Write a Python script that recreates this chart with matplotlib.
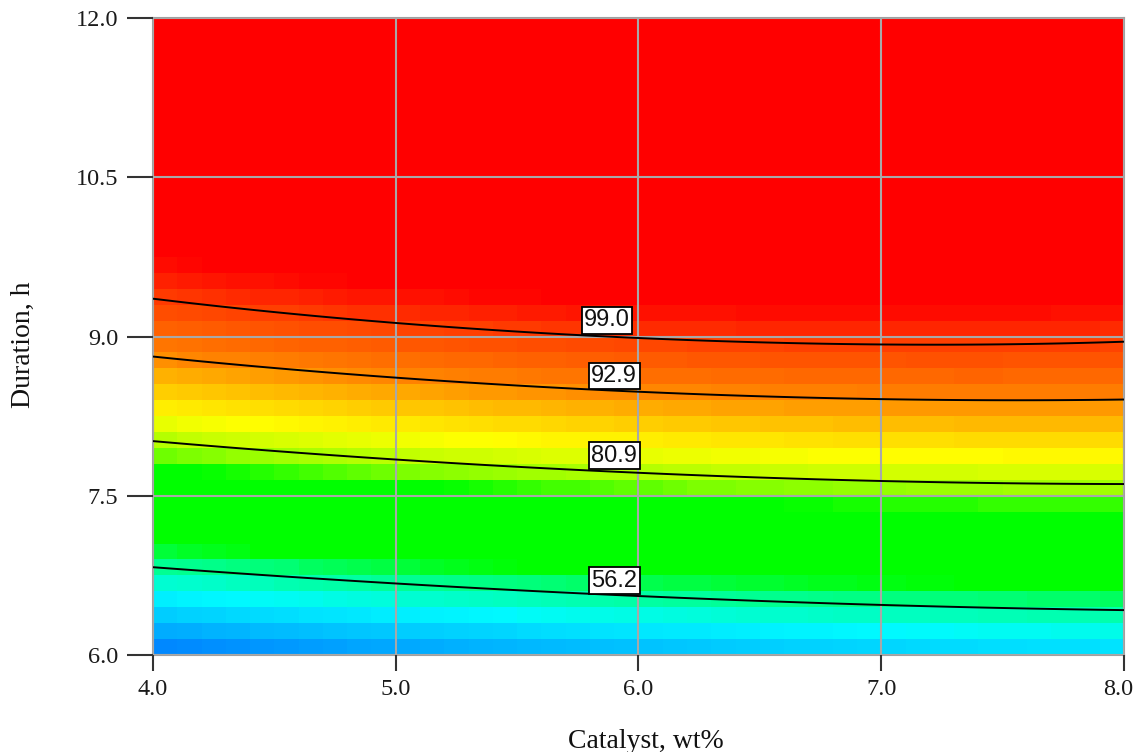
import numpy as np
import matplotlib
matplotlib.use("Agg")
import matplotlib.pyplot as plt
from matplotlib.colors import LinearSegmentedColormap, Normalize
from matplotlib.transforms import ScaledTranslation

plt.rcParams['font.family'] = ['Liberation Serif', 'DejaVu Serif']

# contour levels and the duration at which each one crosses catalyst = 4..8 wt%
catalyst = [4.0, 5.0, 6.0, 7.0, 8.0]
levels = [56.2, 80.9, 92.9, 99.0]
dur_562 = [6.83, 6.67, 6.55, 6.47, 6.43]
dur_809 = [8.02, 7.84, 7.73, 7.64, 7.60]
dur_929 = [8.81, 8.60, 8.48, 8.41, 8.40]
dur_990 = [9.35, 9.13, 9.00, 8.92, 8.96]
level_durs = [dur_562, dur_809, dur_929, dur_990]

x_ticks = [4.0, 5.0, 6.0, 7.0, 8.0]
y_ticks = [6.0, 7.5, 9.0, 10.5, 12.0]

# quadratic response surface (coded factors) fitted through the contour points
def coded(x, y):
    a = (np.asarray(x) - 6.0) / 2.0
    b = (np.asarray(y) - 9.0) / 3.0
    return np.stack([np.ones_like(a), a, b, a * b, a * a, b * b], axis=-1)

px, py, pz = [], [], []
for lev, durs in zip(levels, level_durs):
    px += catalyst
    py += durs
    pz += [lev] * len(durs)
coef, *_ = np.linalg.lstsq(coded(np.array(px), np.array(py)), np.array(pz), rcond=None)

def response(x, y):
    return coded(x, y) @ coef

# colour ramp: blue -> cyan -> green -> yellow -> orange -> red
stops = [
    (30.0, (0, 80, 255)),
    (34.0, (0, 115, 255)),
    (40.0, (0, 165, 255)),
    (46.0, (0, 215, 255)),
    (50.0, (0, 250, 255)),
    (54.0, (0, 255, 190)),
    (58.0, (0, 255, 120)),
    (61.5, (0, 255, 0)),
    (76.5, (0, 255, 0)),
    (79.0, (130, 255, 0)),
    (82.0, (200, 255, 0)),
    (85.0, (255, 255, 0)),
    (88.0, (255, 215, 0)),
    (91.0, (255, 170, 0)),
    (93.0, (255, 135, 0)),
    (96.0, (255, 100, 0)),
    (99.0, (255, 65, 0)),
    (102.5, (255, 0, 0)),
]
vmin, vmax = stops[0][0], stops[-1][0]
cmap = LinearSegmentedColormap.from_list(
    'de', [((v - vmin) / (vmax - vmin), tuple(c / 255 for c in rgb)) for v, rgb in stops])
cmap.set_over((1, 0, 0))
cmap.set_under((0, 80 / 255, 1))

fig = plt.figure(figsize=(11.35, 7.52), dpi=100)
ax = fig.add_axes([0.1348, 0.129, 0.8555, 0.847])

xe = np.linspace(4, 8, 41)
ye = np.linspace(6, 12, 41)
xc = (xe[:-1] + xe[1:]) / 2
yc = (ye[:-1] + ye[1:]) / 2
XC, YC = np.meshgrid(xc, yc)
ax.pcolormesh(xe, ye, response(XC, YC), cmap=cmap,
              norm=Normalize(vmin, vmax), shading='flat', zorder=0)

xf = np.linspace(4, 8, 300)
yf = np.linspace(6, 12, 300)
XF, YF = np.meshgrid(xf, yf)
ax.contour(XF, YF, response(XF, YF), levels=levels, colors='black',
           linewidths=1.4, zorder=3)

label_x = [5.90, 5.90, 5.90, 5.87]
for lev, durs, lx in zip(levels, level_durs, label_x):
    ly = np.interp(lx, catalyst, durs)
    ax.annotate(f'{lev:.1f}', (lx, ly), xytext=(0, 2.5), textcoords='offset points',
                ha='center', va='bottom', fontsize=17, family='Liberation Sans',
                color='#111111', zorder=5,
                bbox=dict(boxstyle='square,pad=0.1', fc='white', ec='black', lw=1.3))

ax.set_xlim(4, 8)
ax.set_ylim(6, 12)
ax.set_xticks(x_ticks)
ax.set_yticks(y_ticks)
ax.set_xticklabels([f'{t:.1f}' for t in x_ticks])
ax.set_yticklabels([f'{t:.1f}' for t in y_ticks])
ax.grid(True, color='#a8a8a8', linewidth=1.5)
ax.set_axisbelow(False)
for s in ax.spines.values():
    s.set_color('#a0a0a0')
    s.set_linewidth(1.5)
ax.tick_params(axis='y', length=18.5, width=1.5, color='#333333', pad=6.5,
               labelsize=17.5, labelcolor='#1a1a1a')
ax.tick_params(axis='x', length=11.5, width=1.5, color='#333333', pad=6,
               labelsize=17.5, labelcolor='#1a1a1a')

# keep the last x label inside the figure
last = ax.get_xticklabels()[-1]
last.set_transform(last.get_transform() + ScaledTranslation(-6 / 100, 0, fig.dpi_scale_trans))

fig.text(646 / 1135, 1 - 741 / 752, 'Catalyst, wt%', fontsize=20,
         color='#111111', ha='center', va='center')
fig.text(23 / 1135, 1 - 345 / 752, 'Duration, h', fontsize=20,
         color='#111111', ha='center', va='center', rotation=90)

fig.savefig('out.png', dpi=100)
